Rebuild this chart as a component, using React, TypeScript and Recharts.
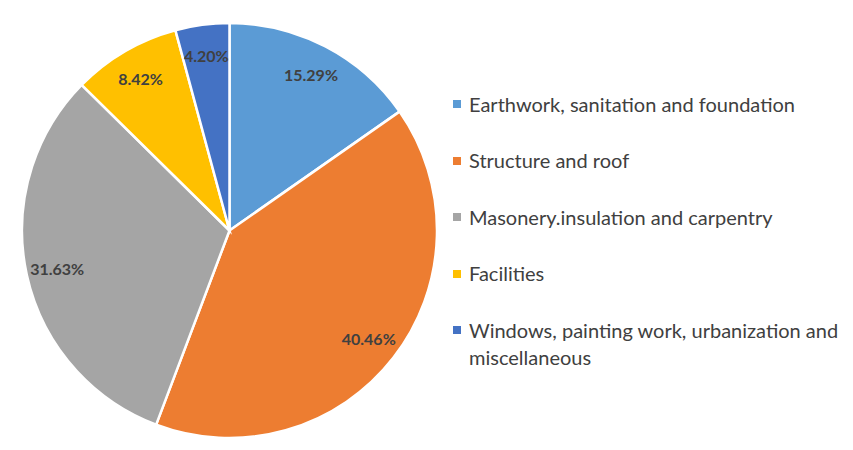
import { Cell, Legend, Pie, PieChart } from "recharts";

const categories = [
  "Earthwork, sanitation and foundation",
  "Structure and roof",
  "Masonery.insulation and carpentry",
  "Facilities",
  "Windows, painting work, urbanization and miscellaneous",
];
const shares = [15.29, 40.46, 31.63, 8.42, 4.2];
const sliceColors = ["#5b9bd5", "#ed7d31", "#a5a5a5", "#ffc000", "#4472c4"];

const data = categories.map((name, i) => ({ name, value: shares[i] }));

const RADIAN = Math.PI / 180;

function renderLabel(props: any) {
  const { cx, cy, midAngle, outerRadius, value } = props;
  const r = outerRadius * 0.85;
  const x = cx + r * Math.cos(-midAngle * RADIAN);
  const y = cy + r * Math.sin(-midAngle * RADIAN);
  return (
    <text x={x} y={y} fill="#404040" textAnchor="middle" dominantBaseline="central" fontSize={16} fontWeight={700} fontFamily="Lato">
      {value.toFixed(2)}%
    </text>
  );
}

function renderLegend() {
  return (
    <ul style={{ listStyle: "none", margin: 0, padding: 0, fontFamily: "Lato", fontSize: 20, color: "#404040", lineHeight: "27px" }}>
      {data.map((entry, index) => (
        <li key={entry.name} style={{ position: "relative", paddingLeft: 23, marginBottom: 29.5 }}>
          <span style={{ position: "absolute", left: 7, top: 9.5, width: 8, height: 8, backgroundColor: sliceColors[index] }} />
          {entry.name}
        </li>
      ))}
    </ul>
  );
}

export default function App() {
  return (
    <div style={{ position: "relative", width: 853, height: 450, marginLeft: -8, marginTop: -8, background: "#fff" }}>
      <div style={{ position: "absolute", left: 4, top: 4, width: 849, height: 446, borderTop: "3px solid #000", borderLeft: "3px solid #000", boxSizing: "border-box" }} />
      <div style={{ position: "absolute", left: 0, top: 0 }}>
        <PieChart width={853} height={450} margin={{ top: 0, right: 0, bottom: 0, left: 0 }}>
          <Pie
            data={data}
            dataKey="value"
            nameKey="name"
            cx={229.5}
            cy={230.5}
            outerRadius={207.5}
            startAngle={90}
            endAngle={-270}
            stroke="#fff"
            strokeWidth={2.5}
            label={renderLabel}
            labelLine={false}
            isAnimationActive={false}
          >
            {data.map((entry, index) => (
              <Cell key={entry.name} fill={sliceColors[index]} />
            ))}
          </Pie>
          <Legend content={renderLegend} wrapperStyle={{ left: 446, top: 90.5, width: 406 }} />
        </PieChart>
      </div>
    </div>
  );
}
